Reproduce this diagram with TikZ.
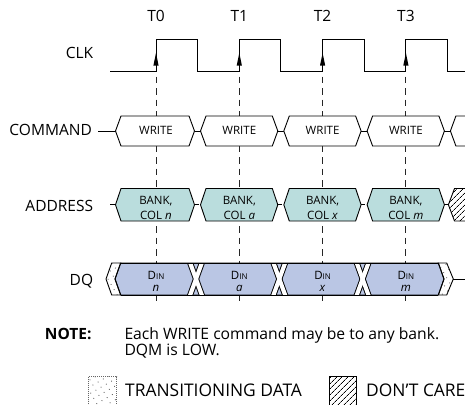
\documentclass[tikz,border=0pt]{standalone}
\usepackage{fontspec}
\setmainfont{Open Sans}
\usetikzlibrary{patterns.meta}
\definecolor{addrfill}{RGB}{186,221,221}
\definecolor{dqfill}{RGB}{186,198,228}
\tikzset{
  sig/.style={line width=0.9pt, draw=black},
  lbl/.style={anchor=base east, inner sep=0pt, font=\fontsize{15.5}{18}\selectfont},
  tlbl/.style={anchor=base, inner sep=0pt, font=\fontsize{15.5}{18}\selectfont},
  boxtxt/.style={anchor=base, inner sep=0pt, font=\fontsize{11.5}{14}\selectfont},
  notetxt/.style={anchor=base west, inner sep=0pt, font=\fontsize{15.7}{18}\selectfont},
  legtxt/.style={anchor=base west, inner sep=0pt, font=\fontsize{17.4}{20}\selectfont},
  guide/.style={line width=0.9pt, draw=black!85, dash pattern=on 6.5pt off 5pt},
  transfill/.style={pattern={Dots[distance=6pt, angle=30, radius=0.6pt]}, pattern color=black!65},
  carefill/.style={pattern={Lines[angle=45, distance=4pt, line width=0.7pt]}, pattern color=black},
}
\begin{document}
\begin{tikzpicture}[x=1pt,y=-1pt]
\clip (0,0) rectangle (465,404);
\fill[white] (0,0) rectangle (465,404);

% ---------- signal names ----------
\node[lbl] (clk) at (93.3,58.3) {CLK};
\node[lbl] (cmd) at (92,135) {COMMAND};
\node[lbl] (addr) at (93.3,211.5) {ADDRESS};
\node[lbl] (dq) at (93.3,285.8) {DQ};

% ---------- clock ----------
\draw[sig] (110,71) -- (156,71) -- (156,39) -- (197.5,39) -- (197.5,71)
  -- (239.3,71) -- (239.3,39) -- (280.8,39) -- (280.8,71)
  -- (322.6,71) -- (322.6,39) -- (364.1,39) -- (364.1,71)
  -- (405.9,71) -- (405.9,39) -- (447.4,39) -- (447.4,71) -- (470,71);

\foreach \r [count=\i from 0] in {156,239.3,322.6,405.9} {
  \node[tlbl] (t\i) at (\r,21.7) {T\i};
  \fill (\r-2.6,65.5) -- (\r,53) -- (\r+2.6,65.5) -- cycle;
  \draw[guide] (\r,76.5) -- (\r,301);
}

% ---------- COMMAND ----------
\draw[sig] (98,131) -- (115.5,131);
\foreach \a/\b/\r in {112.5/197.5/156, 197.5/280.8/239.3, 280.8/364.1/322.6, 364.1/447.4/405.9} {
  \draw[sig, fill=white] (\a+3,131) -- (\a+8.5,116) -- (\b-8.5,116) -- (\b-3,131)
    -- (\b-8.5,146) -- (\a+8.5,146) -- cycle;
  \draw[sig] (\b-3,131) -- (\b+3,131);
  \node[boxtxt] at (\r,134.2) {WRITE};
}
\draw[sig, fill=white] (472,116) -- (455.9,116) -- (450.4,131) -- (455.9,146) -- (472,146);

% ---------- ADDRESS ----------
\draw[sig] (110,204.75) -- (115.5,204.75);
\foreach \a/\b/\r/\c in {112.5/197.5/156/n, 197.5/280.8/239.3/a, 280.8/364.1/322.6/x, 364.1/447.4/405.9/m} {
  \draw[sig, fill=addrfill] (\a+3,204.75) -- (\a+8.5,188.5) -- (\b-8.5,188.5) -- (\b-3,204.75)
    -- (\b-8.5,221) -- (\a+8.5,221) -- cycle;
  \node[boxtxt] at (\r,204) {BANK,};
  \node[boxtxt] at (\r,219) {COL \textit{\c}};
}
\foreach \b in {197.5,280.8,364.1,447.4} {
  \draw[sig] (\b-3,204.75) -- (\b+1,204.75);
}
\draw[sig, carefill] (472,188.5) -- (454.5,188.5) -- (448.4,204.75) -- (454.5,221) -- (472,221);

% ---------- DQ ----------
\draw[sig, fill=dqfill] (115,279) -- (120.7,263) -- (438.3,263) -- (444,279)
  -- (438.3,295) -- (120.7,295) -- cycle;
\begin{scope}
  \clip (100,263) rectangle (460,295);
  \foreach \x in {196,279.3,362.6} {
    \draw[line width=6pt, black] (\x-6.9,260) -- (\x+6.9,298);
    \draw[line width=6pt, black] (\x+6.9,260) -- (\x-6.9,298);
  }
  \foreach \x in {196,279.3,362.6} {
    \draw[line width=4.1pt, white] (\x-6.9,260) -- (\x+6.9,298);
    \draw[line width=4.1pt, white] (\x+6.9,260) -- (\x-6.9,298);
  }
\end{scope}
\draw[sig] (120.7,263) -- (438.3,263);
\draw[sig] (120.7,295) -- (438.3,295);
% transitioning ends
\draw[sig, transfill] (106,279) -- (111.7,263) -- (120.7,263) -- (115,279)
  -- (120.7,295) -- (111.7,295) -- cycle;
\draw[sig, transfill] (438.3,263) -- (446.7,263) -- (453.3,279) -- (446.7,295)
  -- (438.3,295) -- (444,279) -- cycle;
\draw[sig] (453.3,279) -- (470,279);
\foreach \r/\c in {156/n, 239.3/a, 322.6/x, 405.9/m} {
  \node[boxtxt] at (\r,279.3) {D{\fontsize{8}{10}\selectfont IN}};
  \node[boxtxt] at (\r,291.7) {\textit{\c}};
}

% ---------- note ----------
\node[anchor=base east, inner sep=0pt, font=\fontsize{15.5}{18}\selectfont\bfseries] (note) at (91.7,339) {NOTE:};
\node[notetxt] (note1) at (124.3,339) {Each WRITE command may be to any bank.};
\node[notetxt] (note2) at (124.3,355.7) {DQM is LOW.};

% ---------- legend ----------
\draw[draw=black!60, line width=0.7pt, dash pattern=on 1pt off 1pt, transfill] (88.3,376.7) rectangle (116.7,407);
\node[legtxt] (legtrans) at (125,396.7) {TRANSITIONING DATA};
\draw[line width=0.8pt, carefill] (329.3,376.7) rectangle (356,407);
\node[legtxt] (legcare) at (366,396.7) {DON'T CARE};
\end{tikzpicture}
\end{document}
